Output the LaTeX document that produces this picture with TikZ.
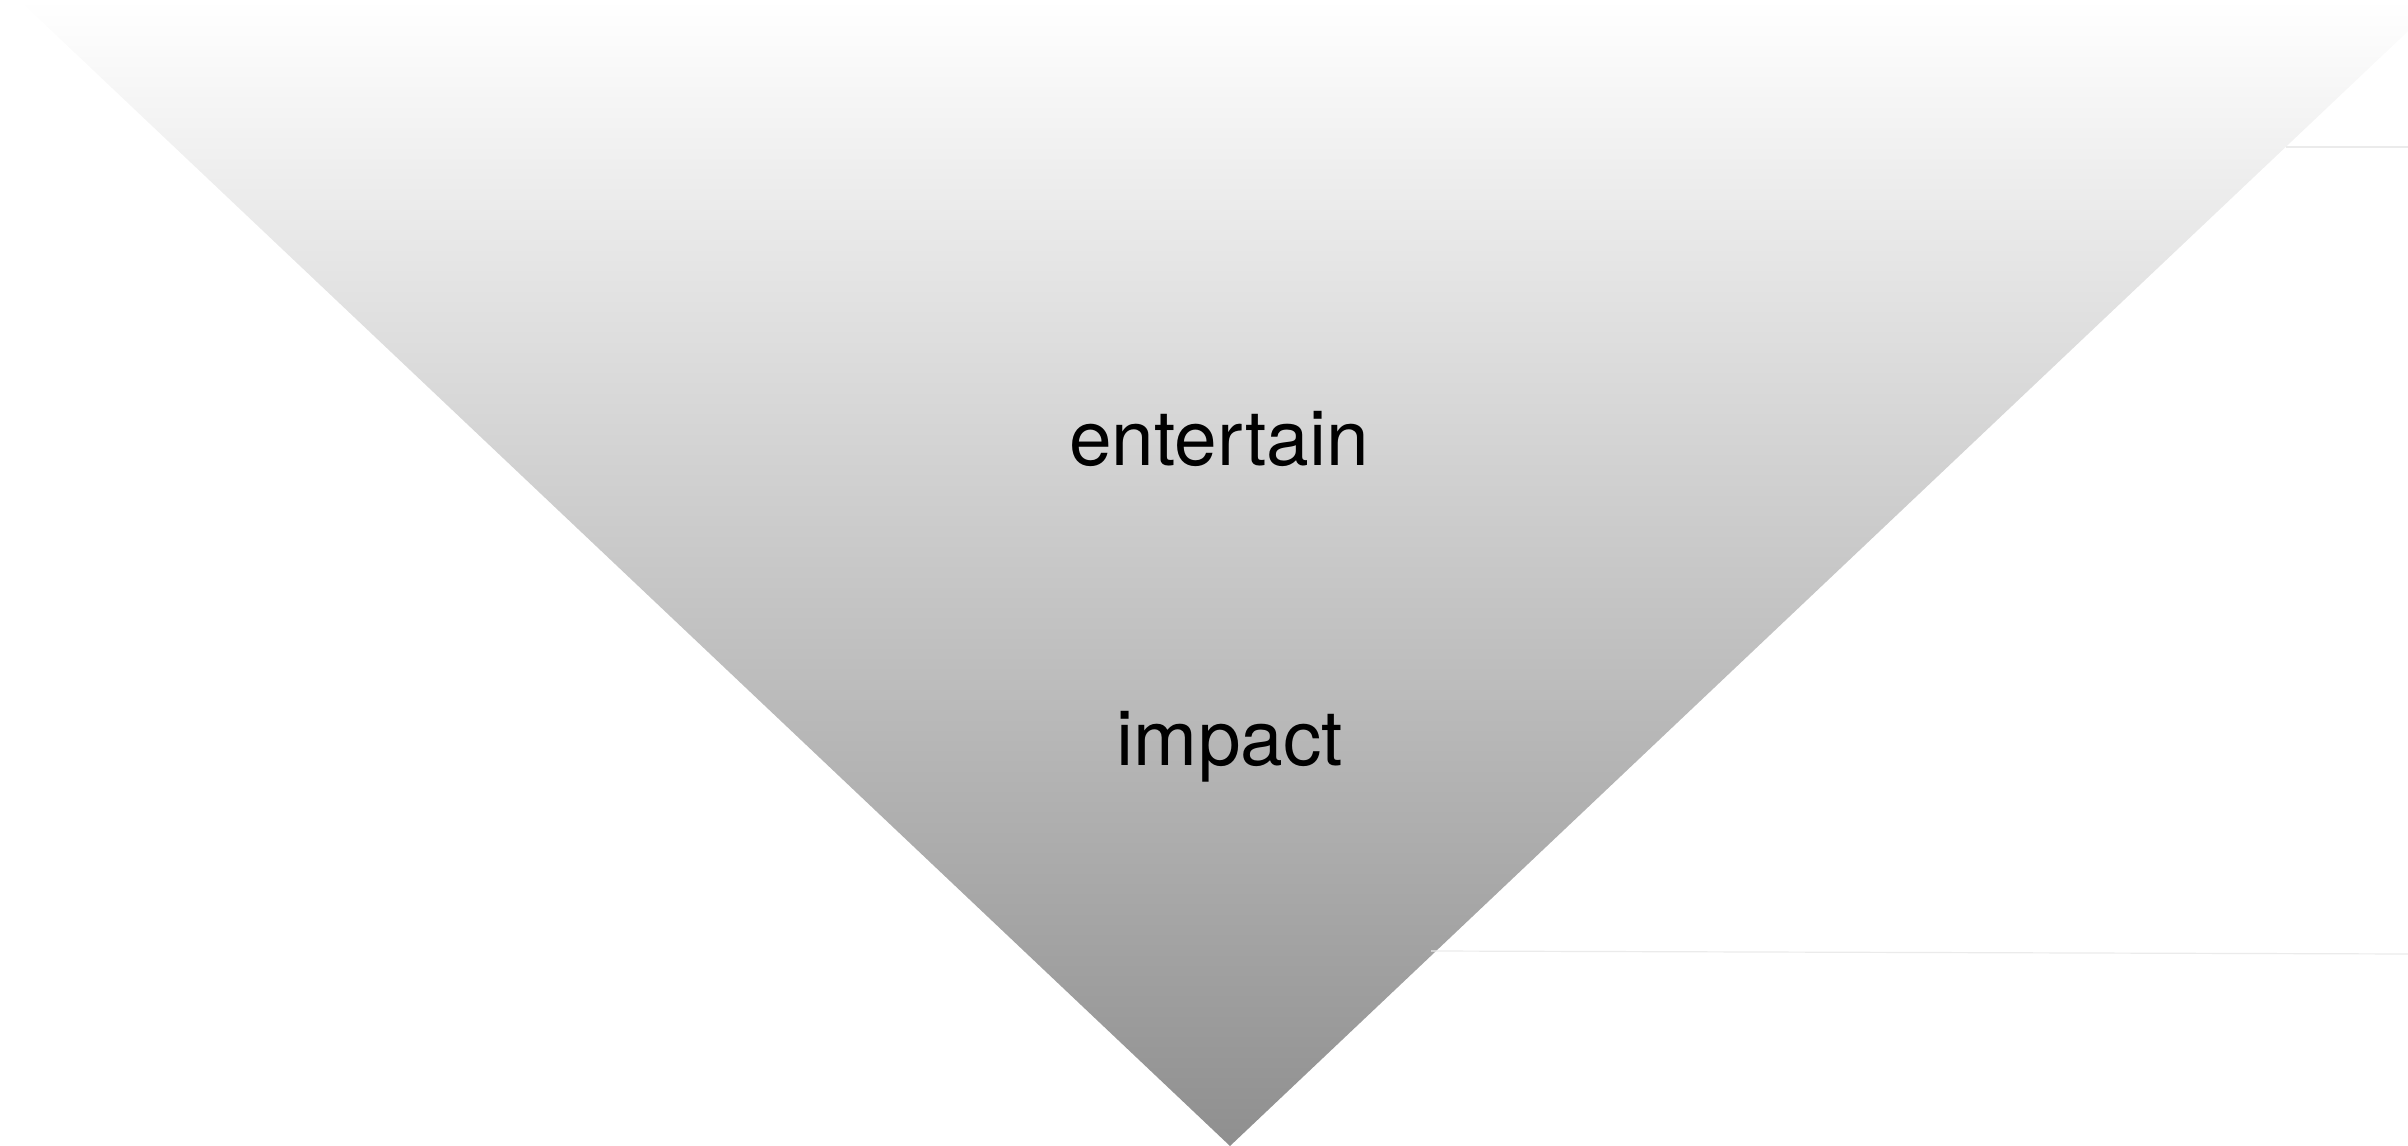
\documentclass[tikz,border=0pt]{standalone}
\usepackage{fontspec}
\setmainfont{TeX Gyre Heros}
\begin{document}
\begin{tikzpicture}[x=0.01cm,y=-0.01cm,
  lbl/.style={anchor=base,inner sep=0pt,font=\fontsize{21.8}{26}\selectfont,text=black},
  faint/.style={draw=black!8,line width=1.2*0.01cm}]
\useasboundingbox (0,0) rectangle (2408,1146);
\begin{scope}
\clip (0,0) rectangle (2408,1146);
\shade[top color=white,bottom color=black!44] (19,0) -- (2441,0) -- (1230,1146) -- cycle;
\end{scope}
\coordinate (a1) at (2286,147);
\coordinate (a2) at (2408,147);
\coordinate (b1) at (1431,951);
\coordinate (b2) at (2408,954);
\draw[faint] (a1) -- (a2);
\draw[faint] (b1) -- (b2);
\node[lbl] (entertain) at (1219,466) {entertain};
\node[lbl] (impact) at (1230,765) {impact};
\end{tikzpicture}
\end{document}
